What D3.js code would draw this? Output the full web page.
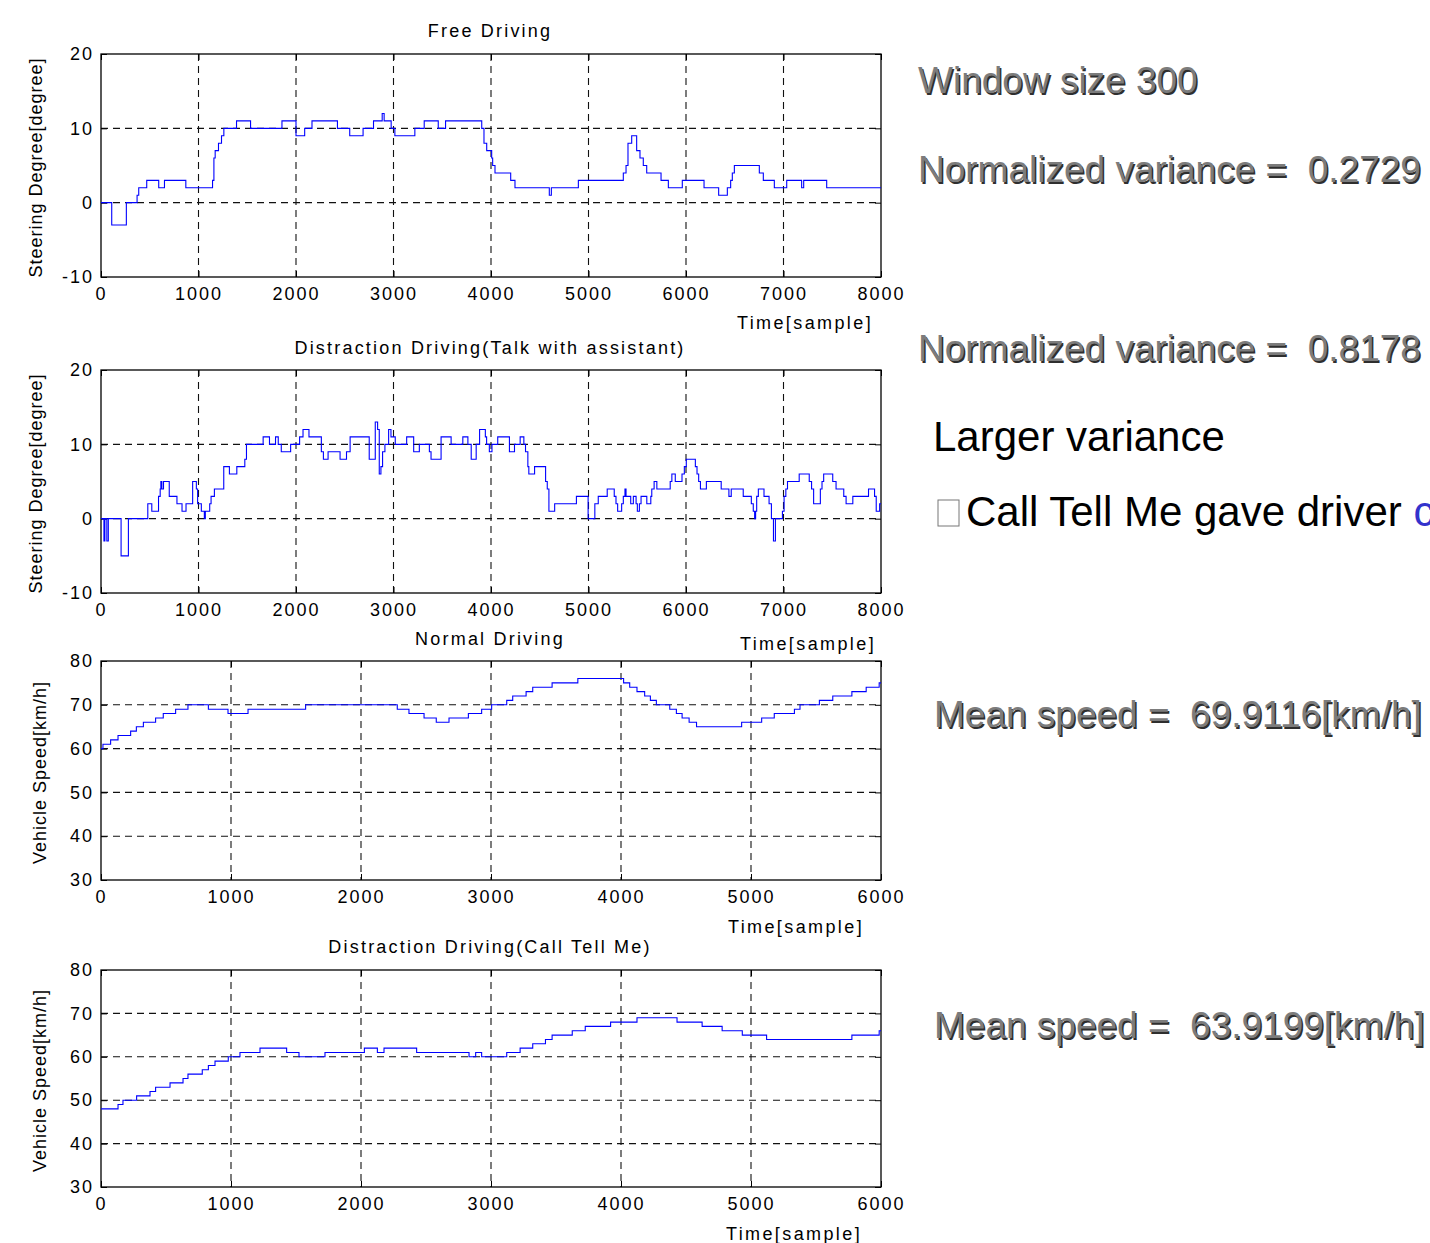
<!DOCTYPE html>
<html>
<head>
<meta charset="utf-8">
<script src="https://cdn.jsdelivr.net/npm/d3@7"></script>
<style>
  body { margin: 0; background: #fff; }
  svg { display: block; }
  text { white-space: pre; }
</style>
</head>
<body>
<div id="chart"></div>
<script>
// Direksiyon açısı verisi (Free Driving) - basamak başlangıç zamanları ve değerler
const freeTime = [0,110,260,370,387,469,592,651,870,1144,1158,1171,1205,1236,1260,1390,1534,1856,2000,2089,
  2164,2425,2551,2688,2795,2884,2904,2976,3014,3219,3315,3459,3534,3905,3928,3956,4007,4017,4041,4202,
  4246,4598,4619,4896,5357,5385,5405,5443,5494,5528,5562,5597,5744,5819,5962,6185,6335,6424,6458,6475,
  6496,6752,6793,6906,7033,7186,7207,7443,8000];
const freeAngle = [0,-3,0,1,2,3,2,3,2,3,6,7,8,9,10,11,10,11,9,10,
  11,10,9,10,11,12,11,10,9,10,11,10,11,10,8,7,6,5,4,3,
  2,1,2,3,4,5,8,9,7,6,5,4,3,2,3,2,1,2,3,4,
  5,4,3,2,3,2,3,2,2];

// Direksiyon açısı (Talk with assistant)
const talkTime = [0,30,40,60,75,206,281,480,521,590,607,614,624,641,700,779,831,872,940,978,
  991,1029,1060,1070,1115,1129,1163,1259,1317,1393,1475,1492,1663,1728,1790,1818,1849,1945,2037,2072,
  2133,2260,2281,2329,2452,2518,2555,2751,2813,2837,2854,2871,2888,2912,2950,2974,3018,3135,3207,3265,
  3368,3385,3488,3591,3711,3763,3797,3848,3883,3942,3955,3983,4010,4069,4189,4241,4299,4337,4354,4378,
  4388,4447,4560,4577,4594,4653,4876,4996,5065,5100,5192,5264,5282,5299,5340,5357,5374,5385,5433,5460,
  5488,5501,5522,5539,5598,5639,5649,5673,5701,5838,5855,5890,5959,5983,6003,6096,6113,6130,6148,6209,
  6361,6440,6464,6587,6670,6690,6704,6714,6725,6742,6800,6852,6876,6897,6917,6989,7006,7024,7041,7161,
  7264,7288,7309,7378,7395,7412,7505,7539,7618,7642,7711,7872,7934,7951,7986,8000];
const talkAngle = [0,-3,0,-3,0,-5,0,2,1,3,4,5,4,5,3,2,1,2,5,4,
  2,1,0,1,2,3,4,7,6,7,8,10,11,10,11,10,9,10,11,12,
  11,9,8,9,8,9,11,8,13,12,6,7,9,10,12,11,10,11,9,10,
  9,8,11,10,11,10,8,10,12,11,10,9,10,11,9,10,11,10,9,7,
  6,7,5,4,1,2,3,0,2,3,4,3,2,1,2,3,4,3,2,3,
  2,1,2,3,2,3,4,5,4,5,6,5,6,7,8,7,6,5,4,5,
  4,3,4,3,2,1,0,1,3,4,3,2,0,-3,0,1,3,4,5,6,
  5,4,2,4,5,6,5,4,3,2,3,4,3,1,2,2];

// Araç hızı (Normal Driving)
const normalTime = [0,15,74,131,228,272,326,420,479,574,669,826,977,1131,1574,2279,2369,2485,2579,2677,
  2826,2928,3005,3121,3167,3270,3321,3470,3668,4020,4067,4123,4182,4226,4272,4375,4426,4470,4524,4581,
  4928,5082,5179,5334,5377,5526,5629,5776,5886,5986,6000];
const normalSpeed = [60,61,62,63,64,65,66,67,68,69,70,69,68,69,70,69,68,67,66,67,
  68,69,70,71,72,73,74,75,76,75,74,73,72,71,70,69,68,67,66,65,
  66,67,68,69,70,71,72,73,74,75,75];

// Araç hızı (Call Tell Me)
const callTime = [0,131,169,274,377,420,531,631,669,779,826,877,979,1069,1223,1428,1523,1723,2026,2126,
  2177,2428,2831,2882,2928,3121,3224,3321,3419,3470,3625,3725,3920,4123,4431,4624,4778,4933,5120,5776,
  5986,6000];
const callSpeed = [48,49,50,51,52,53,54,55,56,57,58,59,60,61,62,61,60,61,62,61,
  62,61,60,61,60,61,62,63,64,65,66,67,68,69,68,67,66,65,64,65,
  66,66];

// Eksen etiketleri
const steeringTicks = [-10, 0, 10, 20];
const speedTicks = [30, 40, 50, 60, 70, 80];
const timeTicks8k = [0, 1000, 2000, 3000, 4000, 5000, 6000, 7000, 8000];
const timeTicks6k = [0, 1000, 2000, 3000, 4000, 5000, 6000];

// Sağ taraftaki açıklamalar
const noteWindow = 'Window size 300';
const noteVarFree = 'Normalized variance =  0.2729';
const noteVarTalk = 'Normalized variance =  0.8178';
const noteLarger = 'Larger variance';
const noteCall = 'Call Tell Me gave driver ';
const noteSpeedNormal = 'Mean speed =  69.9116[km/h]';
const noteSpeedCall = 'Mean speed =  63.9199[km/h]';

const width = 1430;
const height = 1243;
const plotLeft = 101;
const plotRight = 881;
const font = "'Liberation Sans', Arial, Helvetica, sans-serif";

const svg = d3.select('#chart')
    .append('svg')
    .attr('width', width)
    .attr('height', height);

svg.append('rect')
    .attr('width', width)
    .attr('height', height)
    .attr('fill', '#fff');

function drawPanel(p) {
    const x = d3.scaleLinear().domain([0, p.xMax]).range([plotLeft, plotRight]);
    const y = d3.scaleLinear().domain(p.yDomain).range([p.bottom, p.top]);
    const g = svg.append('g');
    const plain = d => String(d);

    // Izgara çizgileri
    g.append('g')
        .selectAll('line')
        .data(p.xTicks.slice(1, -1))
        .enter()
        .append('line')
        .attr('x1', d => x(d)).attr('x2', d => x(d))
        .attr('y1', p.top).attr('y2', p.bottom)
        .attr('stroke', '#111')
        .attr('stroke-width', 1.1)
        .attr('stroke-dasharray', '7,5');

    g.append('g')
        .selectAll('line')
        .data(p.yTicks.slice(1, -1))
        .enter()
        .append('line')
        .attr('x1', plotLeft).attr('x2', plotRight)
        .attr('y1', d => y(d)).attr('y2', d => y(d))
        .attr('stroke', '#111')
        .attr('stroke-width', 1.1)
        .attr('stroke-dasharray', '7,5');

    // Eksenler (tikler içe doğru)
    const styleAxis = sel => {
        sel.select('.domain').remove();
        sel.selectAll('.tick line').attr('stroke', '#000');
        sel.selectAll('text')
            .attr('font-family', font)
            .attr('font-size', 18)
            .attr('letter-spacing', '2px')
            .attr('fill', '#000');
    };

    g.append('g')
        .attr('transform', `translate(0,${p.bottom})`)
        .call(d3.axisBottom(x).tickValues(p.xTicks).tickFormat(plain)
            .tickSizeInner(-6).tickSizeOuter(0).tickPadding(10))
        .call(styleAxis);

    g.append('g')
        .attr('transform', `translate(${plotLeft},0)`)
        .call(d3.axisLeft(y).tickValues(p.yTicks).tickFormat(plain)
            .tickSizeInner(-6).tickSizeOuter(0).tickPadding(7))
        .call(styleAxis);

    g.append('g')
        .attr('transform', `translate(0,${p.top})`)
        .call(d3.axisTop(x).tickValues(p.xTicks).tickSizeInner(-6).tickSizeOuter(0).tickFormat(''))
        .call(styleAxis);

    g.append('g')
        .attr('transform', `translate(${plotRight},0)`)
        .call(d3.axisRight(y).tickValues(p.yTicks).tickSizeInner(-6).tickSizeOuter(0).tickFormat(''))
        .call(styleAxis);

    // Çerçeve
    g.append('rect')
        .attr('x', plotLeft)
        .attr('y', p.top)
        .attr('width', plotRight - plotLeft)
        .attr('height', p.bottom - p.top)
        .attr('fill', 'none')
        .attr('stroke', '#000')
        .attr('stroke-width', 1.3);

    // Basamaklı veri çizgisi
    const line = d3.line()
        .x(d => x(d[0]))
        .y(d => y(d[1]))
        .curve(d3.curveStepAfter);

    g.append('path')
        .datum(d3.zip(p.times, p.values))
        .attr('d', line)
        .attr('fill', 'none')
        .attr('stroke', '#0000ff')
        .attr('stroke-width', 1.1);

    // Başlık ve eksen yazıları
    g.append('text')
        .attr('x', 490)
        .attr('y', p.titleY)
        .attr('text-anchor', 'middle')
        .attr('font-family', font)
        .attr('font-size', 18)
        .attr('letter-spacing', '2.2px')
        .text(p.title);

    g.append('text')
        .attr('x', p.xLabelX)
        .attr('y', p.xLabelY)
        .attr('text-anchor', 'middle')
        .attr('font-family', font)
        .attr('font-size', 18)
        .attr('letter-spacing', '2.4px')
        .text('Time[sample]');

    g.append('text')
        .attr('transform', `translate(${p.yLabelX},${(p.top + p.bottom) / 2 + 2}) rotate(-90)`)
        .attr('text-anchor', 'middle')
        .attr('font-family', font)
        .attr('font-size', 18)
        .attr('letter-spacing', '1px')
        .text(p.yLabel);
}

drawPanel({
    top: 54, bottom: 277, xMax: 8000, xTicks: timeTicks8k,
    yDomain: [-10, 20], yTicks: steeringTicks,
    times: freeTime, values: freeAngle,
    title: 'Free Driving', titleY: 37,
    xLabelX: 805, xLabelY: 329,
    yLabel: 'Steering Degree[degree]', yLabelX: 42
});

drawPanel({
    top: 370, bottom: 593, xMax: 8000, xTicks: timeTicks8k,
    yDomain: [-10, 20], yTicks: steeringTicks,
    times: talkTime, values: talkAngle,
    title: 'Distraction Driving(Talk with assistant)', titleY: 354,
    xLabelX: 808, xLabelY: 650,
    yLabel: 'Steering Degree[degree]', yLabelX: 42
});

drawPanel({
    top: 661, bottom: 880, xMax: 6000, xTicks: timeTicks6k,
    yDomain: [30, 80], yTicks: speedTicks,
    times: normalTime, values: normalSpeed,
    title: 'Normal Driving', titleY: 645,
    xLabelX: 796, xLabelY: 933,
    yLabel: 'Vehicle Speed[km/h]', yLabelX: 46
});

drawPanel({
    top: 970, bottom: 1187, xMax: 6000, xTicks: timeTicks6k,
    yDomain: [30, 80], yTicks: speedTicks,
    times: callTime, values: callSpeed,
    title: 'Distraction Driving(Call Tell Me)', titleY: 953,
    xLabelX: 794, xLabelY: 1240,
    yLabel: 'Vehicle Speed[km/h]', yLabelX: 46
});

// Gölgeli gri yazı
function grayText(str, x, y) {
    const t = svg.append('g');
    t.append('text')
        .attr('x', x + 1.5).attr('y', y + 1.5)
        .attr('font-family', font)
        .attr('font-size', 37)
        .attr('fill', '#2e2e2e')
        .attr('xml:space', 'preserve')
        .text(str);
    t.append('text')
        .attr('x', x).attr('y', y)
        .attr('font-family', font)
        .attr('font-size', 37)
        .attr('fill', '#7c7c7c')
        .attr('xml:space', 'preserve')
        .text(str);
}

grayText(noteWindow, 918, 93);
grayText(noteVarFree, 918, 182);
grayText(noteVarTalk, 918, 361);
grayText(noteSpeedNormal, 934, 727);
grayText(noteSpeedCall, 934, 1038);

svg.append('text')
    .attr('x', 933)
    .attr('y', 451)
    .attr('font-family', font)
    .attr('font-size', 42)
    .attr('fill', '#000')
    .text(noteLarger);

// Eksik karakter kutusu
svg.append('rect')
    .attr('x', 938)
    .attr('y', 500)
    .attr('width', 21)
    .attr('height', 26)
    .attr('fill', 'none')
    .attr('stroke', '#777')
    .attr('stroke-width', 1);

const callNote = svg.append('text')
    .attr('x', 966)
    .attr('y', 526)
    .attr('font-family', font)
    .attr('font-size', 42)
    .attr('fill', '#000');
callNote.append('tspan').text(noteCall);
callNote.append('tspan').attr('fill', '#3333cc').text('c');
</script>
</body>
</html>
